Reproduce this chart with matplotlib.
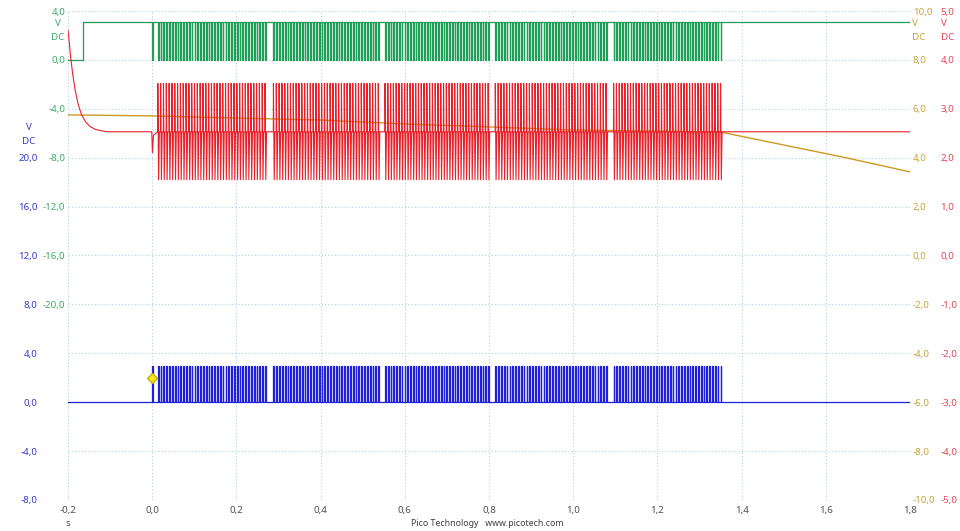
import numpy as np
import matplotlib
matplotlib.use("Agg")
import matplotlib.pyplot as plt

plt.rcParams['font.family'] = ['Noto Sans', 'DejaVu Sans']

#
# Data read off the scope capture
#
x_ticks = [-0.2, 0.0, 0.2, 0.4, 0.6, 0.8, 1.0, 1.2, 1.4, 1.6, 1.8]

# burst windows (s) and pulse patterns, one char per bit slot
burst_start = [0.000, 0.288, 0.553, 0.815, 1.096]
burst_end = [0.268, 0.537, 0.798, 1.078, 1.350]
burst_bits = [
    "10111111111111111111111111111111111111111",
    "11111111111111111111111111111111111111",
    "11111111111111111111111111111111111111",
    "1111111111111111111111111111111111111111",
    "111111111111111111111111111111111111111",
]

# channel A (green): idle low, steps high before trigger
green_low = 0.0
green_high = 3.1
green_step_t = -0.164

# channel B (blue): idle low, pulses high
blue_low = 0.0
blue_high = 2.97

# channel D (red): exponential settle then baseline with swings
red_decay_t = [-0.200, -0.198, -0.194, -0.189, -0.183, -0.176, -0.168, -0.158, -0.148, -0.135, -0.120, -0.107]
red_decay_v = [4.61, 4.45, 4.08, 3.72, 3.38, 3.10, 2.88, 2.73, 2.64, 2.58, 2.55, 2.53]
red_base = 2.53
red_hi = 3.52
red_lo = 1.55

# channel C (olive): slow droop
olive_t = [-0.2, 0.0, 0.2, 0.4, 0.6, 0.8, 1.0, 1.2, 1.35, 1.5, 1.65, 1.8]
olive_v = [5.75, 5.71, 5.62, 5.54, 5.38, 5.26, 5.13, 5.09, 5.05, 4.52, 3.99, 3.42]

trigger_t = 0.0
trigger_v = 2.02

# axis ticks
blue_ticks = [-8, -4, 0, 4, 8, 12, 16, 20, 24, 28, 32]
green_ticks = [4, 0, -4, -8, -12, -16, -20]
olive_ticks = [10, 8, 6, 4, 2, 0, -2, -4, -6, -8, -10]
red_ticks = [5, 4, 3, 2, 1, 0, -1, -2, -3, -4, -5]

# colours
c_green, c_green_t = '#1e9e57', '#3daa6a'
c_blue, c_blue_t = '#2020d8', '#3a3acc'
c_olive, c_olive_t = '#cc9a22', '#c9a43a'
c_red, c_red_t = '#e8202a', '#e4475a'
c_grid = '#b8cde0'

#
# Pulse times from the bit patterns
#
pulse_t = []
for s, e, bits in zip(burst_start, burst_end, burst_bits):
    step = (e - s) / (len(bits) - 1)
    for i, b in enumerate(bits):
        if b == '1':
            pulse_t.append(s + i * step)
w = 0.0018

# green trace
gx = [-0.2, green_step_t, green_step_t]
gy = [green_low, green_low, green_high]
for tp in pulse_t:
    gx += [tp, tp, tp + w, tp + w]
    gy += [green_high, green_low, green_low, green_high]
gx.append(1.8)
gy.append(green_high)

# blue trace
bx = [-0.2]
by = [blue_low]
for tp in pulse_t:
    bx += [tp, tp, tp + w, tp + w]
    by += [blue_low, blue_high, blue_high, blue_low]
bx.append(1.8)
by.append(blue_low)

# red trace
rx = list(red_decay_t)
ry = list(red_decay_v)
rx += [-0.001, 0.0005, 0.003]
ry += [red_base, 2.1, 2.46]
for tp in pulse_t[1:]:
    rx += [tp - 0.0003, tp, tp + w, tp + 2.0 * w]
    ry += [red_base, red_hi, red_lo, red_base]
rx.append(1.8)
ry.append(red_base)

#
# Figure
#
fig = plt.figure(figsize=(9.6, 5.31), dpi=100)
rect = [68 / 960, 31 / 531, 842 / 960, 489 / 531]

ax_b = fig.add_axes(rect)
ax_g = fig.add_axes(rect, sharex=ax_b)
ax_o = fig.add_axes(rect, sharex=ax_b)
ax_r = fig.add_axes(rect, sharex=ax_b)

fmt = lambda v: ("%.1f" % v).replace('.', ',')

for a in (ax_b, ax_g, ax_o, ax_r):
    for sp in a.spines.values():
        sp.set_visible(False)
    a.tick_params(length=0)
for a in (ax_g, ax_o, ax_r):
    a.patch.set_visible(False)
    a.tick_params(axis='x', labelbottom=False)

# blue / base axis with grid
ax_b.set_xlim(-0.2, 1.8)
ax_b.set_ylim(-8, 32)
ax_b.set_xticks(x_ticks)
ax_b.set_xticklabels([fmt(v) for v in x_ticks])
ax_b.tick_params(axis='x', colors='#505050', labelsize=7, pad=4)
ax_b.set_yticks(blue_ticks)
ax_b.set_yticklabels([fmt(v) if v <= 20 else '' for v in blue_ticks])
ax_b.tick_params(axis='y', colors=c_blue_t, labelsize=7, pad=22)
ax_b.grid(True, color=c_grid, linestyle=(0, (1, 2)), linewidth=0.8)

ax_g.set_ylim(-36, 4)
ax_g.set_yticks(green_ticks)
ax_g.set_yticklabels([fmt(v) for v in green_ticks])
ax_g.tick_params(axis='y', colors=c_green_t, labelsize=7, pad=2)

ax_o.set_ylim(-10, 10)
ax_o.yaxis.tick_right()
ax_o.set_yticks(olive_ticks)
ax_o.set_yticklabels([fmt(v) for v in olive_ticks])
ax_o.tick_params(axis='y', colors=c_olive_t, labelsize=7, pad=2)

ax_r.set_ylim(-5, 5)
ax_r.yaxis.tick_right()
ax_r.set_yticks(red_ticks)
ax_r.set_yticklabels([fmt(v) for v in red_ticks])
ax_r.tick_params(axis='y', colors=c_red_t, labelsize=7, pad=22)

# traces
ax_g.plot(gx, gy, color=c_green, linewidth=0.9)
ax_r.plot(rx, ry, color=c_red, linewidth=0.8)
ax_o.plot(olive_t, olive_v, color=c_olive, linewidth=1.0)
ax_b.plot(bx, by, color=c_blue, linewidth=0.9)
ax_b.plot([trigger_t], [trigger_v], marker='D', markersize=5.5,
          markerfacecolor='#f5e51a', markeredgecolor='#c8b400', zorder=5)

# unit labels
def unit(x, y, col, ha='center'):
    fig.text(x / 960, 1 - y / 531, "V", color=col, fontsize=7, ha=ha, va='center')
    fig.text(x / 960, 1 - (y + 14) / 531, "DC", color=col, fontsize=7, ha=ha, va='center')

unit(58, 24, c_green_t)
unit(29, 127, c_blue_t)
unit(912, 23, c_olive_t, ha='left')
unit(941, 23, c_red_t, ha='left')

fig.text(68 / 960, 1 - 524 / 531, "s", color='#505050', fontsize=7, ha='center', va='center')
fig.text(487 / 960, 1 - 523 / 531, "Pico Technology   www.picotech.com",
         color='#404040', fontsize=6.3, ha='center', va='center')

fig.savefig("out.png", dpi=100)
